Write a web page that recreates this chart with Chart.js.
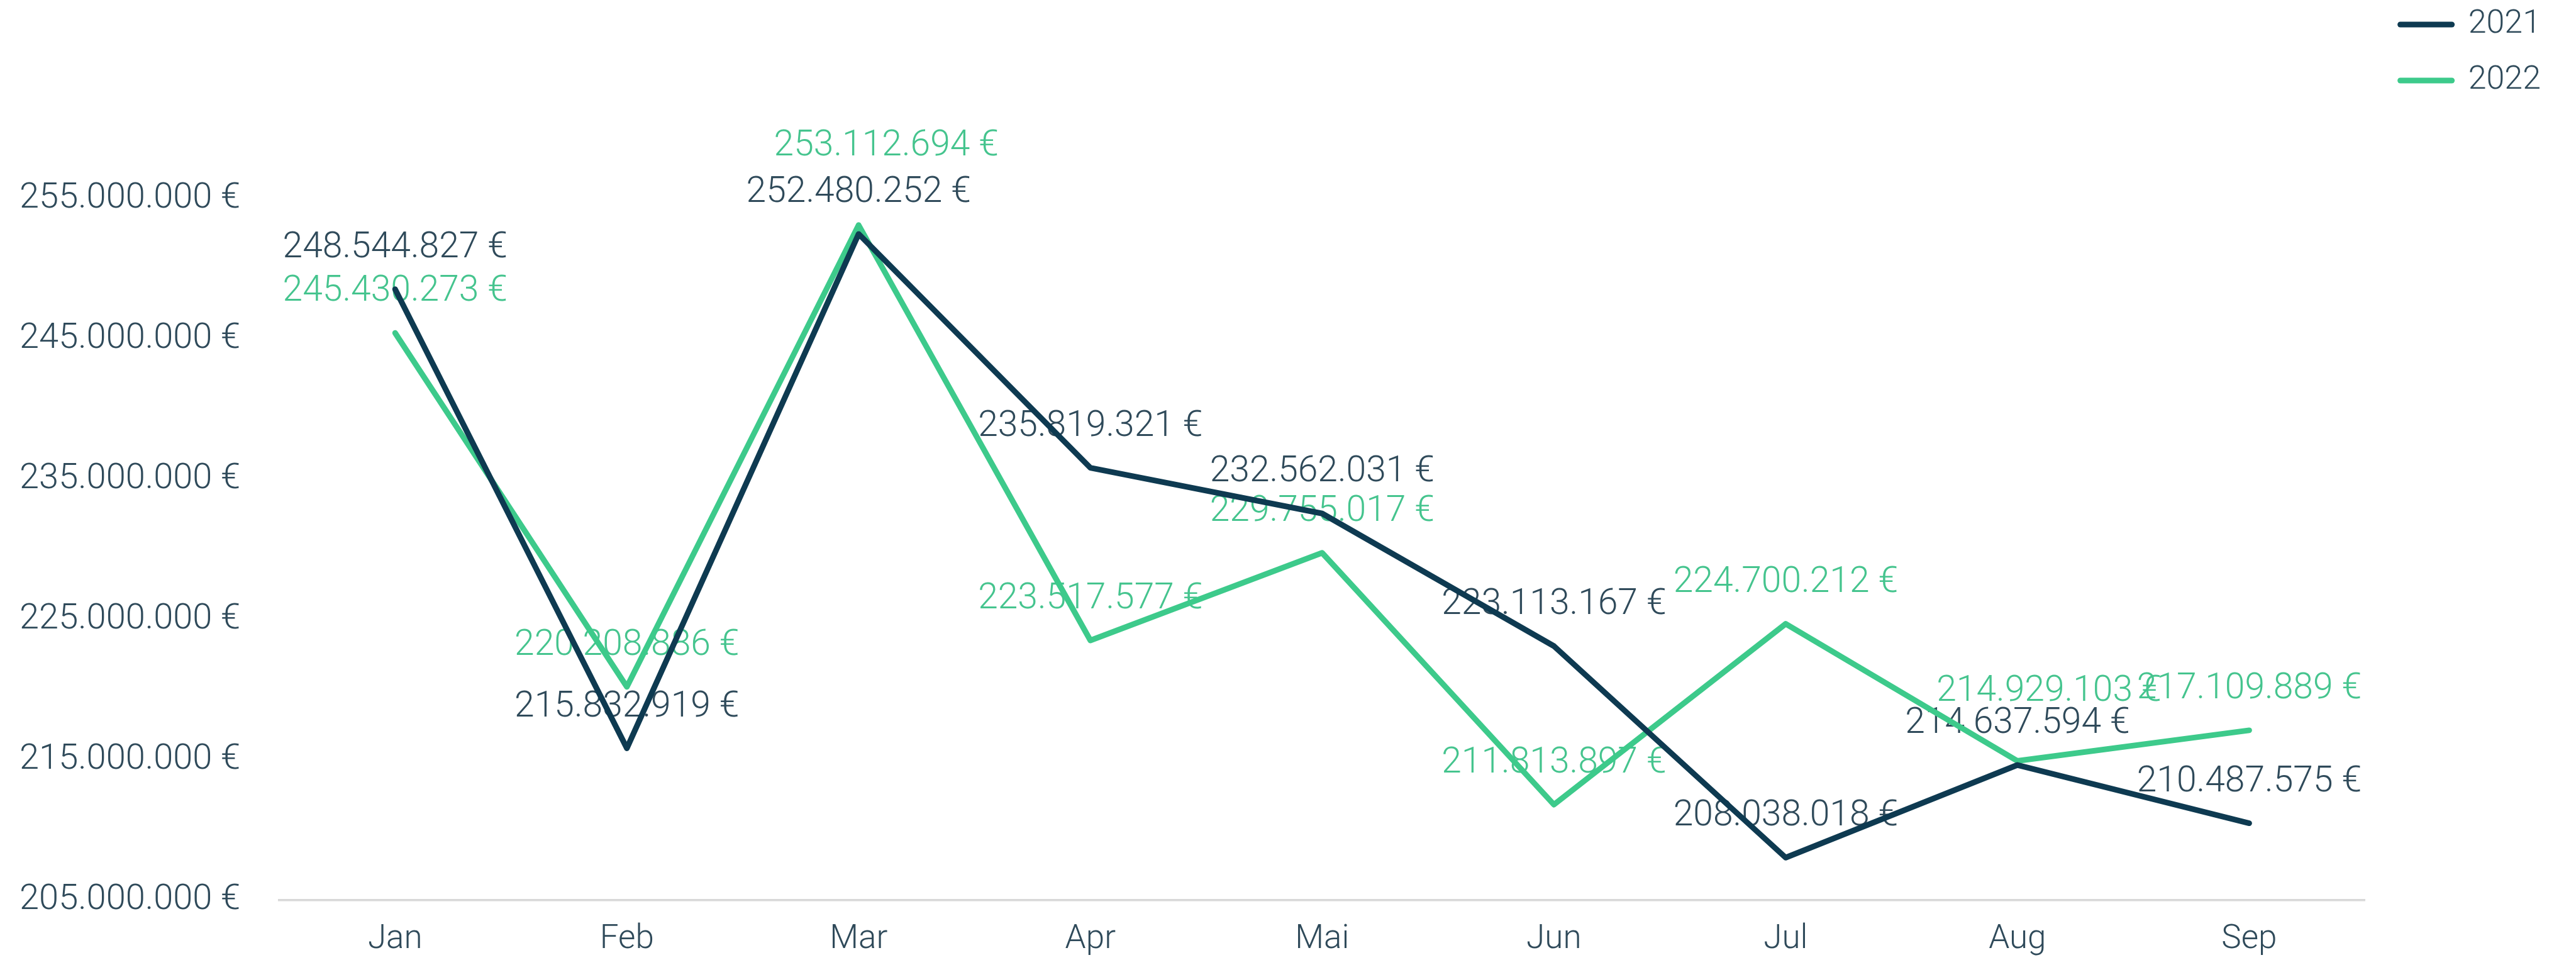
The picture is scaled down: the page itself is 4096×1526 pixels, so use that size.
<!DOCTYPE html>
<html>
<head>
<meta charset="utf-8">
<title>Monatsvergleich 2021 / 2022</title>
<script src="https://cdn.jsdelivr.net/npm/chart.js@4/dist/chart.umd.min.js"></script>
<style>
  html, body { margin: 0; padding: 0; background: #ffffff; }
  #wrap { position: relative; width: 4096px; height: 1526px; }
</style>
</head>
<body>
<div id="wrap"><canvas id="chart"></canvas></div>
<script>
'use strict';

const MONTHS = ['Jan', 'Feb', 'Mar', 'Apr', 'Mai', 'Jun', 'Jul', 'Aug', 'Sep'];
const SERIES_NAMES = ['2021', '2022'];
const VALUES_2021 = [248544827, 215832919, 252480252, 235819321, 232562031, 223113167, 208038018, 214637594, 210487575];
const VALUES_2022 = [245430273, 220208886, 253112694, 223517577, 229755017, 211813897, 224700212, 214929103, 217109889];
const Y_TICKS = [205000000, 215000000, 225000000, 235000000, 245000000, 255000000];

const Y_MIN = 205000000;
const Y_MAX = 267900000; // plot area runs on past the last labelled tick, up under the legend

const NAVY = '#0e3a51';
const GREEN = '#3dca8b';
const TEXT_DARK = '#2f4a5a';
const TEXT_GREEN = '#45c48e';
const FONT = 'Roboto, "Open Sans", sans-serif';
const WEIGHT = 300;

// a couple of labels sit higher / further right so they do not collide
const LABEL_LIFT = 65;
const LABEL_NUDGE = { '1-2': [44, 125], '1-7': [50, 110] };

function euro(value) {
  return String(Math.round(value)).replace(/\B(?=(\d{3})+(?!\d))/g, '.') + ' €';
}

const valueLabels = {
  id: 'valueLabels',
  beforeDatasetsDraw(chart) {
    const { ctx } = chart;
    ctx.save();
    ctx.font = `${WEIGHT} 57px ${FONT}`;
    ctx.textAlign = 'center';
    ctx.textBaseline = 'middle';
    chart.data.datasets.forEach((ds, di) => {
      const meta = chart.getDatasetMeta(di);
      ctx.fillStyle = di === 0 ? TEXT_DARK : TEXT_GREEN;
      meta.data.forEach((pt, i) => {
        const nudge = LABEL_NUDGE[`${di}-${i}`] || [0, LABEL_LIFT];
        ctx.fillText(euro(ds.data[i]), pt.x + nudge[0], pt.y - nudge[1]);
      });
    });
    ctx.restore();
  },
};

function lineDataset(label, data, color) {
  return {
    label,
    data,
    borderColor: color,
    backgroundColor: color,
    borderWidth: 9,
    borderCapStyle: 'round',
    borderJoinStyle: 'round',
    tension: 0,
    pointRadius: 0,
    pointHoverRadius: 0,
    pointBorderWidth: 9,
    fill: false,
  };
}

new Chart(document.getElementById('chart'), {
  type: 'line',
  data: {
    labels: MONTHS,
    datasets: [
      lineDataset(SERIES_NAMES[0], VALUES_2021, NAVY),
      lineDataset(SERIES_NAMES[1], VALUES_2022, GREEN),
    ],
  },
  options: {
    responsive: true,
    maintainAspectRatio: false,
    animation: false,
    layout: { padding: { top: -24, right: 46, bottom: 0, left: 31 } },
    plugins: {
      tooltip: { enabled: false },
      legend: {
        display: true,
        position: 'right',
        align: 'start',
        labels: {
          usePointStyle: true,
          pointStyle: 'line',
          pointStyleWidth: 82,
          padding: 37,
          color: TEXT_DARK,
          font: { family: FONT, size: 52, weight: WEIGHT },
          generateLabels(chart) {
            return Chart.defaults.plugins.legend.labels.generateLabels(chart)
              .map(item => ({ ...item, lineCap: 'round', lineWidth: 9 }));
          },
        },
      },
    },
    scales: {
      x: {
        offset: true,
        grid: { display: false, drawTicks: false },
        border: { display: true, color: '#d8d8d8', width: 3.5 },
        ticks: {
          color: TEXT_DARK,
          font: { family: FONT, size: 53, weight: WEIGHT },
          padding: 31,
          maxRotation: 0,
          autoSkip: false,
        },
        afterFit(scale) { scale.height = 95; },
      },
      y: {
        min: Y_MIN,
        max: Y_MAX,
        grid: { display: false, drawTicks: false },
        border: { display: false },
        afterBuildTicks(scale) { scale.ticks = Y_TICKS.map(value => ({ value })); },
        ticks: {
          autoSkip: false,
          crossAlign: 'far',
          padding: 0,
          color: TEXT_DARK,
          font: { family: FONT, size: 56, weight: WEIGHT, lineHeight: 1 },
          callback: v => euro(v),
        },
        afterFit(scale) { scale.width = 413; },
      },
      gap: {
        type: 'linear',
        position: 'right',
        display: true,
        grid: { display: false, drawTicks: false },
        border: { display: false },
        ticks: { display: false },
        afterFit(scale) { scale.width = 19; },
      },
    },
  },
  plugins: [valueLabels],
});
</script>
</body>
</html>
